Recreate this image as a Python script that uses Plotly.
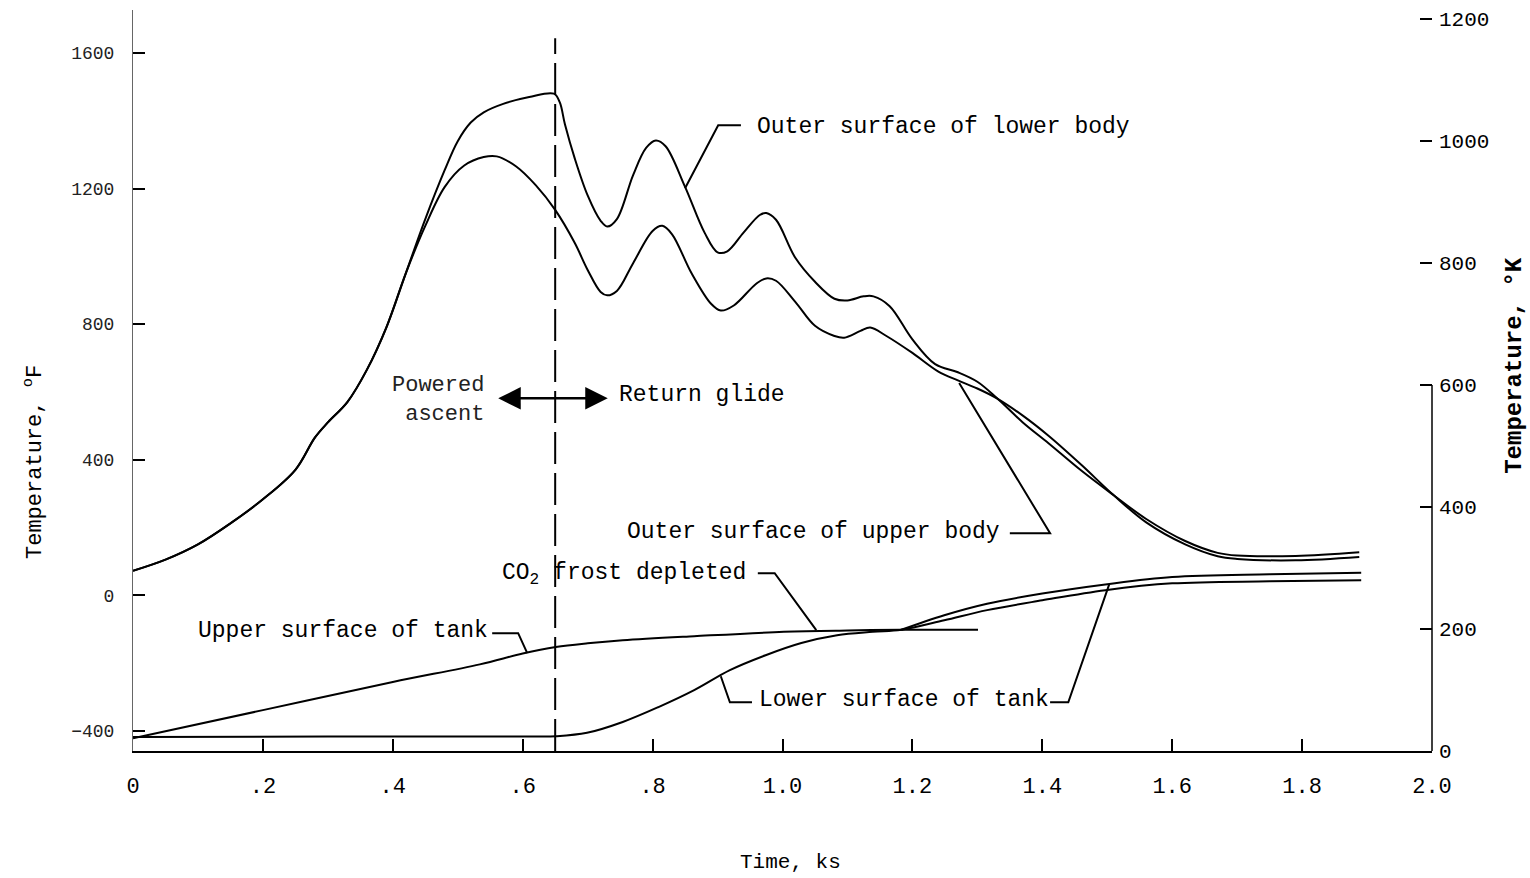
import plotly.graph_objects as go

# ---- Temperature histories (time in ks, temperature in deg F) ----
t_lower_body = [0.0, 0.05, 0.10, 0.15, 0.20, 0.25, 0.28, 0.30, 0.33, 0.36,
                0.39, 0.42, 0.45, 0.48, 0.50, 0.52, 0.54, 0.57, 0.61, 0.648,
                0.657, 0.665, 0.68, 0.70, 0.72, 0.73, 0.745, 0.77, 0.79, 0.805,
                0.82, 0.85, 0.88, 0.90, 0.915, 0.94, 0.965, 0.975, 0.99, 1.02,
                1.05, 1.08, 1.10, 1.125, 1.14, 1.165, 1.20, 1.235, 1.27, 1.30,
                1.33, 1.37, 1.41, 1.46, 1.51, 1.56, 1.62, 1.67, 1.70, 1.79,
                1.888]
temp_lower_body = [72, 105, 150, 212, 283, 370, 465, 510, 570, 665,
                   790, 950, 1110, 1255, 1340, 1395, 1425, 1450, 1470, 1480,
                   1455, 1390, 1290, 1180, 1105, 1088, 1110, 1240, 1320, 1342,
                   1325, 1205, 1070, 1012, 1015, 1070, 1122, 1128, 1108, 995,
                   925, 875, 870, 882, 882, 853, 755, 682, 658, 630,
                   582, 510, 448, 368, 295, 225, 160, 125, 117, 116,
                   127]

t_upper_body = [0.0, 0.05, 0.10, 0.15, 0.20, 0.25, 0.28, 0.30, 0.33, 0.36,
                0.39, 0.42, 0.45, 0.48, 0.51, 0.54, 0.56, 0.59, 0.62, 0.65,
                0.68, 0.70, 0.72, 0.73, 0.745, 0.77, 0.80, 0.815, 0.83, 0.86,
                0.89, 0.905, 0.925, 0.96, 0.975, 0.99, 1.02, 1.05, 1.08, 1.095,
                1.12, 1.135, 1.16, 1.20, 1.24, 1.27, 1.30, 1.33, 1.37, 1.41,
                1.46, 1.51, 1.56, 1.62, 1.67, 1.70, 1.79, 1.888]
temp_upper_body = [72, 105, 150, 212, 283, 370, 465, 510, 570, 665,
                   790, 950, 1090, 1205, 1268, 1293, 1295, 1265, 1210, 1137,
                   1040, 960, 895, 885, 898, 980, 1075, 1090, 1065, 950,
                   860, 840, 855, 920, 935, 928, 865, 795, 765, 760,
                   780, 790, 765, 715, 660, 634, 610, 581, 530, 470,
                   385, 295, 215, 150, 115, 107, 103, 113]

t_upper_tank = [0.0, 0.2, 0.4, 0.534, 0.6, 0.651, 0.70, 0.754, 0.864, 1.002, 1.1, 1.183, 1.301]
temp_upper_tank = [-422, -339, -256, -204, -172, -153, -142, -133, -121, -108, -104, -102, -102]

t_frost_depleted = [1.183, 1.249, 1.315, 1.400, 1.497, 1.600, 1.750, 1.891]
temp_frost_depleted = [-102, -59, -25, 5, 32, 54, 62, 66]

t_lower_tank = [0.0, 0.3, 0.62, 0.651, 0.699, 0.754, 0.809, 0.864, 0.919, 0.974,
                1.029, 1.084, 1.139, 1.183, 1.249, 1.315, 1.400, 1.497, 1.600, 1.750,
                1.891]
temp_lower_tank = [-418, -417, -417, -416, -406, -374, -330, -280, -221, -177,
                   -141, -118, -108, -102, -74, -44, -15, 15, 35, 41,
                   44]

# ---- Axes ----
x_ticks = [0, 0.2, 0.4, 0.6, 0.8, 1.0, 1.2, 1.4, 1.6, 1.8, 2.0]
x_tick_text = ["0", ".2", ".4", ".6", ".8", "1.0", "1.2", "1.4", "1.6", "1.8", "2.0"]
f_ticks = [-400, 0, 400, 800, 1200, 1600]
k_ticks = [0, 200, 400, 600, 800, 1000, 1200]

end_of_ascent = 0.65

F_MIN, F_MAX = -459.67, 1727.0


def f_to_k(f):
    return (f + 459.67) * 5.0 / 9.0


FONT = "Liberation Mono"
INK = "black"

fig = go.Figure()

line_style = dict(color=INK, width=2, shape="spline", smoothing=1.0)
for t, temp, name in [
    (t_lower_body, temp_lower_body, "Outer surface of lower body"),
    (t_upper_body, temp_upper_body, "Outer surface of upper body"),
    (t_upper_tank, temp_upper_tank, "Upper surface of tank"),
    (t_frost_depleted, temp_frost_depleted, "Upper surface of tank, CO2 frost depleted"),
    (t_lower_tank, temp_lower_tank, "Lower surface of tank"),
]:
    fig.add_trace(go.Scatter(x=t, y=temp, mode="lines", name=name, line=line_style,
                             showlegend=False))

# Kelvin scale carrier for the secondary axis
fig.add_trace(go.Scatter(x=[0, 2], y=[f_to_k(F_MIN), f_to_k(F_MAX)], yaxis="y2",
                         mode="lines", line=dict(width=0, color="rgba(0,0,0,0)"),
                         hoverinfo="skip", showlegend=False))

# End of powered ascent
shapes = [
    dict(type="line", xref="x", yref="y", x0=end_of_ascent, x1=end_of_ascent,
         y0=F_MIN, y1=1644, line=dict(color=INK, width=2, dash="32px,9px")),
    # right axis spine (lower part)
    dict(type="line", xref="paper", yref="y2", x0=1, x1=1, y0=0, y1=600,
         line=dict(color=INK, width=1.5)),
]

# Leader lines from labels to curves
leaders = [
    [(0.936, 1387), (0.901, 1387), (0.850, 1201)],
    [(1.350, 183), (1.412, 183), (1.272, 626)],
    [(0.962, 65), (0.988, 65), (1.052, -103)],
    [(0.553, -112), (0.593, -112), (0.607, -171)],
    [(0.953, -316), (0.919, -316), (0.905, -239)],
    [(1.412, -316), (1.440, -316), (1.503, 32)],
]
for pts in leaders:
    path = "M " + " L ".join(f"{px} {py}" for px, py in pts)
    shapes.append(dict(type="path", xref="x", yref="y", path=path,
                       line=dict(color=INK, width=2)))

lab = dict(family=FONT, size=23, color=INK)
annotations = [
    dict(x=0.958, y=1381, text="Outer surface of lower body", xanchor="left"),
    dict(x=1.338, y=186, text="Outer surface of upper body", xanchor="right"),
    dict(x=0.565, y=62, text="CO<sub>2</sub> frost depleted", xanchor="left"),
    dict(x=0.550, y=-106, text="Upper surface of tank", xanchor="right"),
    dict(x=0.961, y=-310, text="Lower surface of tank", xanchor="left"),
    dict(x=0.745, y=590, text="Return glide", xanchor="left"),
]
annotations = [dict(a, xref="x", yref="y", showarrow=False, yanchor="middle",
                    font=lab) for a in annotations]
annotations.append(dict(x=0.5435, y=576, xref="x", yref="y", showarrow=False,
                        text="Powered<br>ascent", align="right", xanchor="right",
                        yanchor="middle", font=dict(family=FONT, size=22, color="#222")))

# Double-headed arrow across the end of ascent
annotations.append(dict(x=0.731, y=581, ax=0.560, ay=581, xref="x", yref="y",
                        axref="x", ayref="y", text="", showarrow=True,
                        arrowside="end+start", arrowhead=2, startarrowhead=2,
                        arrowsize=1.8, startarrowsize=1.8, arrowwidth=2.5,
                        arrowcolor=INK))

# Axis titles
annotations += [
    dict(x=0.5058, y=-0.150, xref="paper", yref="paper", text="Time, ks",
         xanchor="center", yanchor="middle", showarrow=False,
         font=dict(family=FONT, size=21, color=INK)),
    dict(x=-0.0770, y=0.39, xref="paper", yref="paper",
         text="Temperature, <sup>o</sup>F", textangle=-90, showarrow=False,
         xanchor="center", yanchor="middle",
         font=dict(family=FONT, size=22, color=INK)),
    dict(x=1.0640, y=0.52, xref="paper", yref="paper",
         text="<b>Temperature, °K</b>", textangle=-90, showarrow=False,
         xanchor="center", yanchor="middle",
         font=dict(family=FONT, size=24, color=INK)),
]

fig.update_layout(
    width=1530, height=878,
    margin=dict(l=133, r=98, t=10, b=127),
    paper_bgcolor="white", plot_bgcolor="white",
    showlegend=False,
    xaxis=dict(range=[0, 2.0], tickvals=x_ticks, ticktext=x_tick_text,
               ticks="inside", ticklen=12, tickwidth=2, tickcolor=INK,
               showline=True, linewidth=2, linecolor=INK, showgrid=False,
               zeroline=False, tickfont=dict(family=FONT, size=22, color=INK),
               ticklabelstandoff=14),
    yaxis=dict(range=[F_MIN, F_MAX], tickvals=f_ticks, ticks="inside", ticklen=12,
               tickwidth=2, tickcolor=INK, showline=True, linewidth=1,
               linecolor="#666", showgrid=False, zeroline=False,
               tickfont=dict(family=FONT, size=18, color="#222"),
               ticklabelstandoff=14),
    yaxis2=dict(range=[f_to_k(F_MIN), f_to_k(F_MAX)], overlaying="y", side="right",
                tickvals=k_ticks, ticks="inside", ticklen=12, tickwidth=2,
                tickcolor=INK, showline=False, showgrid=False, zeroline=False,
                tickfont=dict(family=FONT, size=21, color=INK),
                ticklabelstandoff=6),
    shapes=shapes,
    annotations=annotations,
)

fig.write_html("out.html")
